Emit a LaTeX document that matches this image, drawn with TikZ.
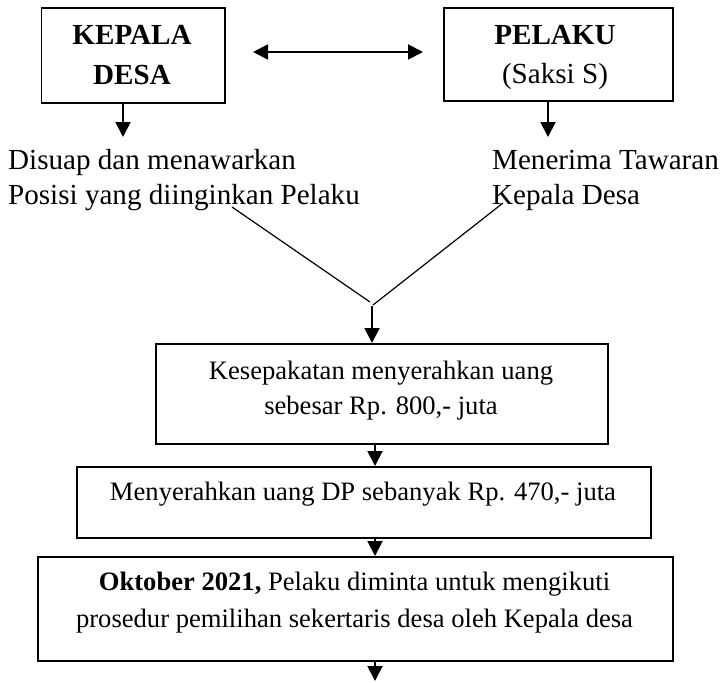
\documentclass[tikz,border=0pt]{standalone}
\usepackage{fontspec}
\setmainfont{Liberation Serif}
\usetikzlibrary{arrows.meta}
\begin{document}
\begin{tikzpicture}[x=1pt,y=-1pt,
  box/.style={draw, line width=1.7pt, inner sep=0pt, anchor=north west},
  big/.style={font=\fontsize{29.1}{35}\selectfont, inner sep=0pt, anchor=base},
  bigl/.style={big, anchor=base west},
  small/.style={font=\fontsize{26.6}{34}\selectfont, inner sep=0pt, anchor=base},
  arr/.style={line width=1.9pt, -{Triangle[width=15pt,length=15pt]}},
  darr/.style={line width=1.9pt, {Triangle[width=15pt,length=15pt]}-{Triangle[width=15pt,length=15pt]}},
  diag/.style={line width=1.2pt}]
\useasboundingbox (0,0) rectangle (722,682);
% boxes
\node[box, minimum width=183.3pt, minimum height=95pt] (kd) at (40.7,7) {};
\node[box, minimum width=229pt, minimum height=93pt] (pl) at (443,7) {};
\node[box, minimum width=452pt, minimum height=100pt] (k1) at (155,343) {};
\node[box, minimum width=574pt, minimum height=71pt] (k2) at (76,466) {};
\node[box, minimum width=635pt, minimum height=104pt] (k3) at (37,556) {};
% texts
\node[big] (kdA) at (132,45) {\textbf{KEPALA}};
\node[big] (kdB) at (132,85) {\textbf{DESA}};
\node[big] (plA) at (555,45) {\textbf{PELAKU}};
\node[big] (plB) at (555,84) {(Saksi S)};
\node[bigl] (lt1) at (8,169) {Disuap dan menawarkan};
\node[bigl] (lt2) at (8,204) {Posisi yang diinginkan Pelaku};
\node[bigl] (rt1) at (492,169) {Menerima Tawaran};
\node[bigl] (rt2) at (492,204) {Kepala Desa};
\node[small] (k1a) at (381,379) {Kesepakatan menyerahkan uang};
\node[small] (k1b) at (381,414) {sebesar Rp. 800,- juta};
\node[small] (k2a) at (363,500) {Menyerahkan uang DP sebanyak Rp. 470,- juta};
\node[small] (k3a) at (354.5,590) {\textbf{Oktober 2021,} Pelaku diminta untuk mengikuti};
\node[small] (k3b) at (354.5,627) {prosedur pemilihan sekertaris desa oleh Kepala desa};
% coordinates
\coordinate (dl) at (253,52);
\coordinate (dr) at (423,52);
\coordinate (a1e) at (123,137);
\coordinate (a2e) at (548,137);
\coordinate (ls) at (232,207);
\coordinate (le) at (370,302);
\coordinate (rs) at (503,203);
\coordinate (re) at (373,305);
\coordinate (j) at (372,306);
\coordinate (ax) at (375,0);
\coordinate (bend) at (375,681);
% connectors
\draw[darr] (dl) -- (dr);
\draw[arr] (kd.south -| a1e) -- (a1e);
\draw[arr] (pl.south -| a2e) -- (a2e);
\draw[diag] (ls) -- (le);
\draw[diag] (rs) -- (re);
\draw[arr] (j) -- (j |- k1.north);
\draw[arr] (k1.south -| ax) -- (k2.north -| ax);
\draw[arr] (k2.south -| ax) -- (k3.north -| ax);
\draw[arr] (k3.south -| ax) -- (bend);
\end{tikzpicture}
\end{document}
